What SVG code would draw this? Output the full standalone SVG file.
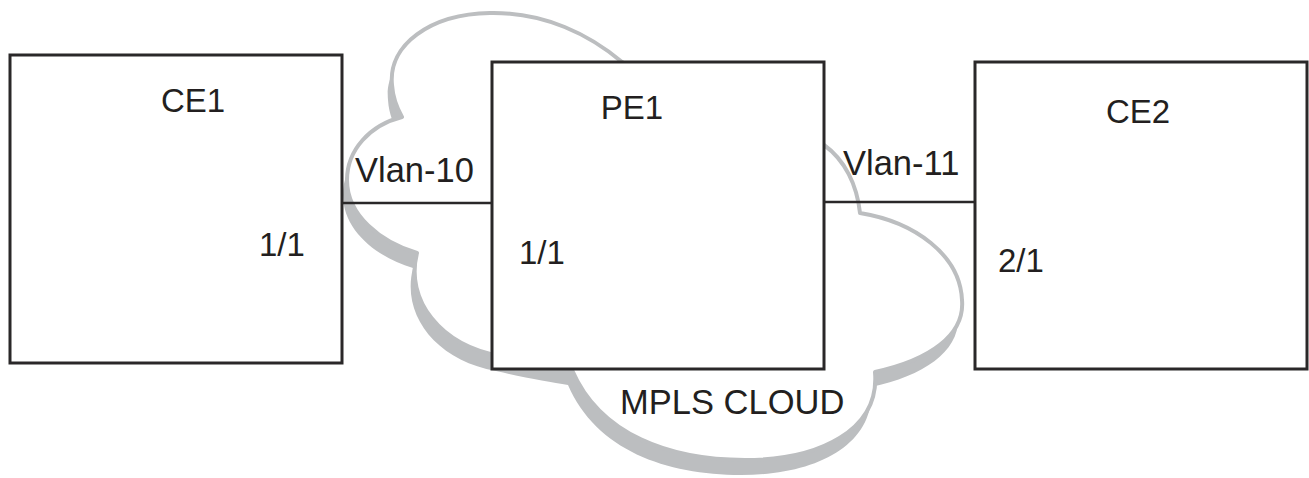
<svg xmlns="http://www.w3.org/2000/svg" xmlns:xlink="http://www.w3.org/1999/xlink" width="1309" height="478" viewBox="0 0 1309 478">
<style>
.box{fill:#fff;stroke:#2a2829;stroke-width:3}
.link{stroke:#2a2829;stroke-width:2.5;fill:none}
text{font-family:"Liberation Sans",Arial,sans-serif;font-size:33px;fill:#231f20}
.big{font-size:34.5px}
.c{text-anchor:middle}
</style>
<defs>
<path id="cloudPath" d="M 402,117 C 370,125 347,150 347,180 C 347,215 380,242 417,253 C 405,300 440,345 500,356 C 530,363 555,367 572,370 C 600,435 670,460 745,460 C 820,460 880,430 875,372 C 930,360 965,335 962,300 C 960,255 915,222 860,213 C 857,185 845,160 824,145 L 700,110 L 622,62 C 590,35 545,12 490,13 C 430,14 388,45 392,85 C 393,100 398,110 402,117 Z"/>
</defs>
<g id="cloud">
<use xlink:href="#cloudPath" transform="translate(-4,15)" fill="#bcbec0"/>
<use xlink:href="#cloudPath" fill="#fff" stroke="#bcbec0" stroke-width="4" stroke-linejoin="round"/>
<text class="big" x="620" y="414">MPLS CLOUD</text>
</g>
<g id="CE1">
<rect class="box" x="10" y="55" width="332" height="308"/>
<text class="c" x="193" y="112">CE1</text>
<text x="259" y="256">1/1</text>
</g>
<g id="PE1">
<rect class="box" x="492" y="62" width="332" height="307"/>
<text class="c" x="632" y="119">PE1</text>
<text x="519" y="264">1/1</text>
</g>
<g id="CE2">
<rect class="box" x="975" y="62" width="332" height="307"/>
<text class="c" x="1138" y="123">CE2</text>
<text x="998" y="272">2/1</text>
</g>
<g id="connectors">
<line class="link" x1="342" y1="203" x2="492" y2="203"/>
<text class="big" x="355" y="182">Vlan-10</text>
<line class="link" x1="824" y1="202" x2="975" y2="202"/>
<text class="big" x="843" y="175">Vlan-11</text>
</g>
</svg>
